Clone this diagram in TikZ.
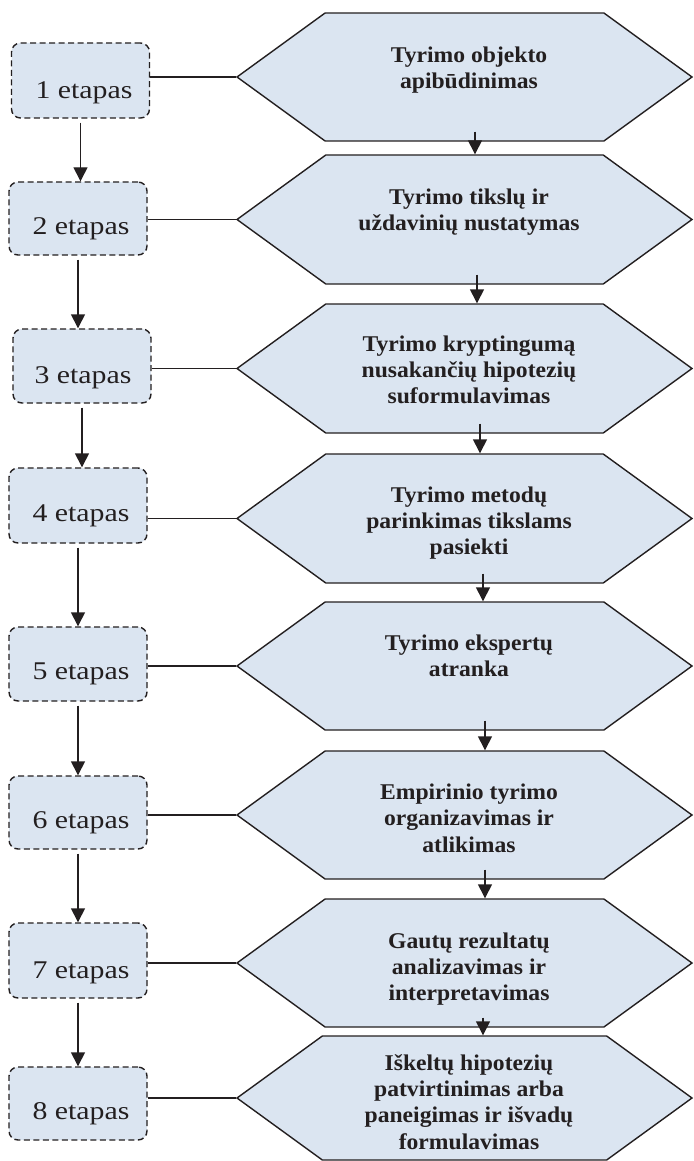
\documentclass[tikz,border=0pt]{standalone}
\usepackage{fontspec}
\setmainfont{Liberation Serif}
\newfontfamily\stagefont{Liberation Serif}[FakeStretch=1.17]
\newfontfamily\taskfont{Liberation Serif}[FakeStretch=1.05]
\usetikzlibrary{shapes.symbols,arrows.meta}
\definecolor{stagefill}{RGB}{219,229,241}
\definecolor{ink}{RGB}{35,31,32}

\begin{document}
\begin{tikzpicture}[x=1pt,y=-1pt,
  stagebox/.style={draw=ink, line width=1.4pt, dash pattern=on 6pt off 3.5pt,
    rounded corners=9pt, fill=stagefill, minimum width=138pt, inner sep=0pt},
  stagetext/.style={font=\stagefont\fontsize{25.5}{30}\selectfont, text=ink, inner sep=0pt},
  taskhex/.style={signal, signal to=west and east, signal pointer angle=72,
    draw=ink, line width=1.4pt, fill=stagefill, minimum width=455pt, inner sep=0pt},
  tasktext/.style={font=\taskfont\bfseries\fontsize{22.5}{26.3}\selectfont, align=center,
    text=ink, inner sep=0pt},
  link/.style={draw=ink, line width=1.4pt},
  flow/.style={link, -{Triangle[length=14pt,width=14pt]}},
]
\useasboundingbox (0,0) rectangle (693,1161);

% task hexagons on the right
\node[taskhex, minimum height=128pt] (h1) at (464.5,77) {};
\node[taskhex, minimum height=129pt] (h2) at (464.5,219.5) {};
\node[taskhex, minimum height=129pt] (h3) at (464.5,368.5) {};
\node[taskhex, minimum height=129pt] (h4) at (464.5,518.5) {};
\node[taskhex, minimum height=128pt] (h5) at (464.5,666) {};
\node[taskhex, minimum height=128pt] (h6) at (464.5,815) {};
\node[taskhex, minimum height=128pt] (h7) at (464.5,963) {};
\node[taskhex, minimum height=124pt] (h8) at (464.5,1098) {};

\node[tasktext] (x1) at (469,70) {Tyrimo objekto\\apibūdinimas};
\node[tasktext] (x2) at (469,212) {Tyrimo tikslų ir\\uždavinių nustatymas};
\node[tasktext] (x3) at (469,370) {Tyrimo kryptingumą\\nusakančių hipotezių\\suformulavimas};
\node[tasktext] (x4) at (469,523) {Tyrimo metodų\\parinkimas tikslams\\pasiekti};
\node[tasktext] (x5) at (469,656) {Tyrimo ekspertų\\atranka};
\node[tasktext] (x6) at (469,818) {Empirinio tyrimo\\organizavimas ir\\atlikimas};
\node[tasktext] (x7) at (469,969) {Gautų rezultatų\\analizavimas ir\\interpretavimas};
\node[tasktext] (x8) at (469,1102) {Iškeltų hipotezių\\patvirtinimas arba\\paneigimas ir išvadų\\formulavimas};

% stage boxes on the left
\node[stagebox, minimum height=75pt] (b1) at (80.5,80.5) {};
\node[stagebox, minimum height=73pt] (b2) at (78,218.5) {};
\node[stagebox, minimum height=74pt] (b3) at (82,366) {};
\node[stagebox, minimum height=75pt] (b4) at (78,505.5) {};
\node[stagebox, minimum height=74pt] (b5) at (78,664) {};
\node[stagebox, minimum height=73pt] (b6) at (78,812.5) {};
\node[stagebox, minimum height=75pt] (b7) at (78,960.5) {};
\node[stagebox, minimum height=73pt] (b8) at (78,1103.5) {};

\node[stagetext] (t1) at (84,93) {1 etapas};
\node[stagetext] (t2) at (81,229) {2 etapas};
\node[stagetext] (t3) at (83,378) {3 etapas};
\node[stagetext] (t4) at (81,516) {4 etapas};
\node[stagetext] (t5) at (81,674) {5 etapas};
\node[stagetext] (t6) at (81,823) {6 etapas};
\node[stagetext] (t7) at (81,973) {7 etapas};
\node[stagetext] (t8) at (81,1114) {8 etapas};

% stage box to task links
\foreach \i in {1,...,8}
  \draw[link] (h\i.west) -- (h\i.west -| b\i.east);

% arrows between stages
\foreach \i/\j in {1/2,2/3,3/4,4/5,5/6,6/7,7/8}
  \draw[flow] ([yshift=-4pt]b\i.south) -- (b\i.south |- b\j.north);

% arrows between tasks
\foreach \i/\j/\dx in {1/2/10.5,2/3/12.5,3/4/15.5,4/5/18.5,5/6/20.5,6/7/20.5,7/8/18.5}
  \draw[flow] ([xshift=\dx pt,yshift=10pt]h\i.south) -- ([xshift=\dx pt]h\i.south |- h\j.north);
\end{tikzpicture}
\end{document}
